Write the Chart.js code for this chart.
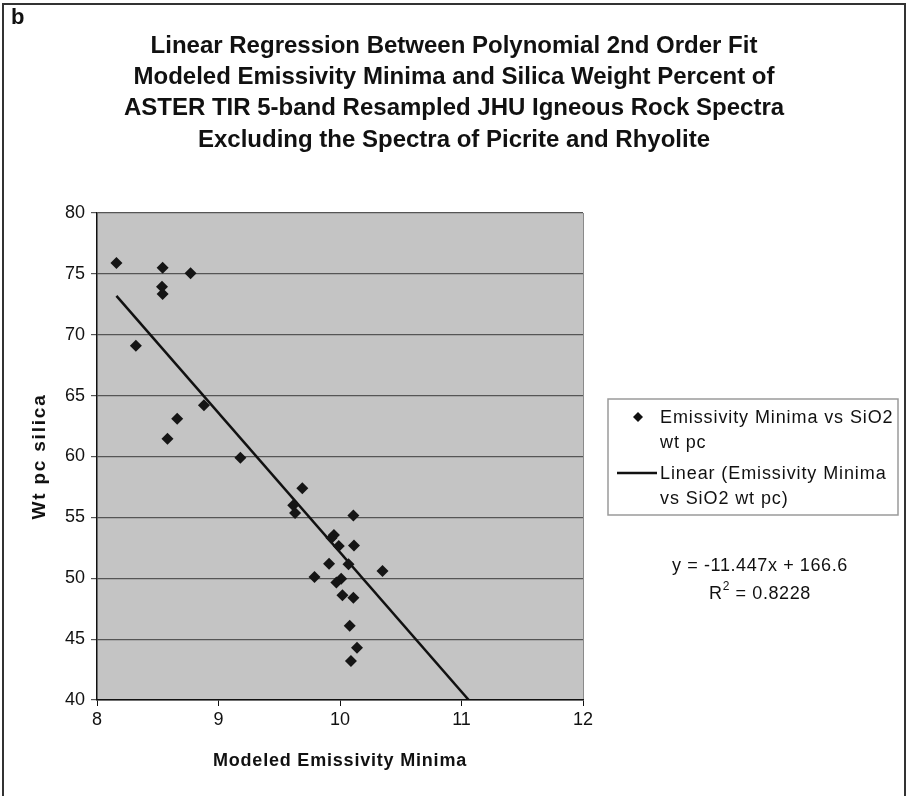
<!DOCTYPE html>
<html>
<head>
<meta charset="utf-8">
<script src="https://cdn.jsdelivr.net/npm/chart.js@4.4.0/dist/chart.umd.min.js"></script>
<style>
  html, body { margin: 0; padding: 0; background: #ffffff; }
  #wrap { width: 907px; height: 796px; position: relative; }
</style>
</head>
<body>
<div id="wrap"><canvas id="c" width="907" height="796"></canvas></div>
<script>
// Modeled emissivity minima (x) and silica weight percent (y) per rock spectrum
const emissivityMinima = [
  8.16, 8.54, 8.77, 8.535, 8.54, 8.32, 8.88, 8.66, 8.58, 9.18,
  9.69, 9.615, 9.63, 10.11, 9.95, 9.93, 9.99, 10.115, 9.91, 10.07,
  10.35, 9.79, 10.01, 9.97, 10.02, 10.11, 10.08, 10.14, 10.09
];
const silicaWtPct = [
  75.9, 75.5, 75.05, 73.95, 73.35, 69.1, 64.2, 63.1, 61.45, 59.9,
  57.4, 56.0, 55.35, 55.15, 53.55, 53.3, 52.65, 52.7, 51.2, 51.15,
  50.6, 50.1, 49.95, 49.65, 48.6, 48.4, 46.1, 44.3, 43.2
];
const xTickValues = [8, 9, 10, 11, 12];
const yTickValues = [40, 45, 50, 55, 60, 65, 70, 75, 80];

// Least-squares trend line reported by the spreadsheet
const trendSlope = -11.447;
const trendIntercept = 166.6;
const rSquared = 0.8228;

const titleLines = [
  'Linear Regression Between Polynomial 2nd Order Fit',
  'Modeled Emissivity Minima and Silica Weight Percent of',
  'ASTER TIR 5-band Resampled JHU Igneous Rock Spectra',
  'Excluding the Spectra of Picrite and Rhyolite'
];
const panelLetter = 'b';
const xAxisTitle = 'Modeled Emissivity Minima';
const yAxisTitle = 'Wt pc silica';
const seriesLabel = 'Emissivity Minima vs SiO2 wt pc';
const trendLabel = 'Linear (Emissivity Minima vs SiO2 wt pc)';
const seriesLegendLines = ['Emissivity Minima vs SiO2', 'wt pc'];
const trendLegendLines = ['Linear (Emissivity Minima', 'vs SiO2 wt pc)'];

const FONT = '"Liberation Sans", Arial, Helvetica, sans-serif';

const points = emissivityMinima.map((x, i) => ({ x: x, y: silicaWtPct[i] }));

// Trend line runs from the smallest x until it leaves the bottom of the axis
const yMin = yTickValues[0];
const xStart = Math.min(...emissivityMinima);
const xEnd = (yMin - trendIntercept) / trendSlope;
const trendPoints = [
  { x: xStart, y: trendSlope * xStart + trendIntercept },
  { x: xEnd, y: trendSlope * xEnd + trendIntercept }
];

const plotBackground = {
  id: 'plotBackground',
  beforeDraw(chart) {
    const { ctx, chartArea: a } = chart;
    ctx.save();
    ctx.fillStyle = '#c4c4c4';
    ctx.fillRect(a.left, a.top, a.right - a.left, a.bottom - a.top);
    ctx.strokeStyle = '#8a8a8a';
    ctx.lineWidth = 1;
    ctx.beginPath();
    ctx.moveTo(a.right + 0.5, a.top);
    ctx.lineTo(a.right + 0.5, a.bottom);
    ctx.stroke();
    ctx.restore();
  }
};

function spacedText(ctx, text, x, y, spacing) {
  ctx.letterSpacing = spacing + 'px';
  ctx.fillText(text, x, y);
  ctx.letterSpacing = '0px';
}

const annotations = {
  id: 'annotations',
  afterDraw(chart) {
    const { ctx, chartArea: a } = chart;
    ctx.save();

    // outer frame
    ctx.strokeStyle = '#333';
    ctx.lineWidth = 2;
    ctx.beginPath();
    ctx.moveTo(3, 800);
    ctx.lineTo(3, 4);
    ctx.lineTo(905, 4);
    ctx.lineTo(905, 800);
    ctx.stroke();

    ctx.fillStyle = '#111';
    ctx.textBaseline = 'middle';

    // panel letter
    ctx.font = 'bold 22px ' + FONT;
    ctx.textAlign = 'left';
    ctx.fillText(panelLetter, 11, 18);

    // title
    ctx.font = 'bold 24px ' + FONT;
    ctx.textAlign = 'center';
    titleLines.forEach((t, i) => ctx.fillText(t, 454, 46 + i * 31.3));

    // axis titles
    ctx.font = 'bold 18px ' + FONT;
    spacedText(ctx, xAxisTitle, (a.left + a.right) / 2, 761, 0.8);
    ctx.save();
    ctx.translate(40, (a.top + a.bottom) / 2);
    ctx.rotate(-Math.PI / 2);
    ctx.font = 'bold 19px ' + FONT;
    spacedText(ctx, yAxisTitle, 0, 0, 1.8);
    ctx.restore();

    // legend box
    const lx = 608, ly = 399, lw = 290, lh = 116;
    ctx.fillStyle = '#ffffff';
    ctx.fillRect(lx, ly, lw, lh);
    ctx.strokeStyle = '#9a9a9a';
    ctx.lineWidth = 1.5;
    ctx.strokeRect(lx, ly, lw, lh);

    ctx.fillStyle = '#111';
    ctx.font = '18px ' + FONT;
    ctx.textAlign = 'left';
    seriesLegendLines.forEach((t, i) => spacedText(ctx, t, 660, 418 + i * 25, 0.9));
    trendLegendLines.forEach((t, i) => spacedText(ctx, t, 660, 474 + i * 25, 0.9));

    // legend symbols
    ctx.beginPath();
    ctx.moveTo(638, 412);
    ctx.lineTo(643, 417);
    ctx.lineTo(638, 422);
    ctx.lineTo(633, 417);
    ctx.closePath();
    ctx.fill();
    ctx.strokeStyle = '#111';
    ctx.lineWidth = 2.5;
    ctx.beginPath();
    ctx.moveTo(617, 473);
    ctx.lineTo(657, 473);
    ctx.stroke();

    // regression equation
    ctx.textAlign = 'center';
    ctx.font = '18px ' + FONT;
    const sign = trendIntercept >= 0 ? '+' : '-';
    spacedText(ctx, 'y = ' + trendSlope + 'x ' + sign + ' ' + Math.abs(trendIntercept), 760, 566, 0.6);
    ctx.letterSpacing = '0.6px';
    const rTxt = ' = ' + rSquared;
    const rW = ctx.measureText('R').width;
    ctx.font = '12px ' + FONT;
    const sW = ctx.measureText('2').width;
    ctx.font = '18px ' + FONT;
    const tW = ctx.measureText(rTxt).width;
    const total = rW + sW + tW;
    const sx = 760 - total / 2;
    ctx.textAlign = 'left';
    ctx.fillText('R', sx, 594);
    ctx.font = '12px ' + FONT;
    ctx.fillText('2', sx + rW, 587);
    ctx.font = '18px ' + FONT;
    ctx.fillText(rTxt, sx + rW + sW, 594);
    ctx.letterSpacing = '0px';

    ctx.restore();
  }
};

new Chart(document.getElementById('c'), {
  type: 'scatter',
  data: {
    datasets: [
      {
        label: seriesLabel,
        data: points,
        pointStyle: 'rectRot',
        pointRadius: 6,
        pointBackgroundColor: '#151515',
        pointBorderColor: '#151515',
        pointBorderWidth: 0,
        showLine: false,
        order: 1
      },
      {
        label: trendLabel,
        type: 'line',
        data: trendPoints,
        borderColor: '#111',
        borderWidth: 2.5,
        pointRadius: 0,
        fill: false,
        order: 2
      }
    ]
  },
  options: {
    responsive: false,
    animation: false,
    devicePixelRatio: 1,
    layout: { padding: { left: 0, top: 213, right: 324, bottom: 0 } },
    plugins: {
      legend: { display: false },
      title: { display: false },
      tooltip: { enabled: false }
    },
    scales: {
      x: {
        type: 'linear',
        min: xTickValues[0],
        max: xTickValues[xTickValues.length - 1],
        afterBuildTicks(scale) { scale.ticks = xTickValues.map(v => ({ value: v })); },
        afterFit(scale) { scale.height = 96; },
        ticks: {
          color: '#111',
          font: { family: FONT, size: 18 },
          padding: 3,
          maxRotation: 0
        },
        grid: {
          drawOnChartArea: false,
          drawTicks: true,
          tickLength: 6,
          color: '#111'
        },
        border: { display: true, color: '#111', width: 1.5 }
      },
      y: {
        type: 'linear',
        min: yTickValues[0],
        max: yTickValues[yTickValues.length - 1],
        afterBuildTicks(scale) { scale.ticks = yTickValues.map(v => ({ value: v })); },
        afterFit(scale) { scale.width = 97; },
        ticks: {
          color: '#111',
          font: { family: FONT, size: 18 },
          padding: 6
        },
        grid: {
          color: '#555',
          lineWidth: 1.2,
          drawTicks: true,
          tickLength: 6
        },
        border: { display: true, color: '#111', width: 1.5 }
      }
    }
  },
  plugins: [plotBackground, annotations]
});
</script>
</body>
</html>
